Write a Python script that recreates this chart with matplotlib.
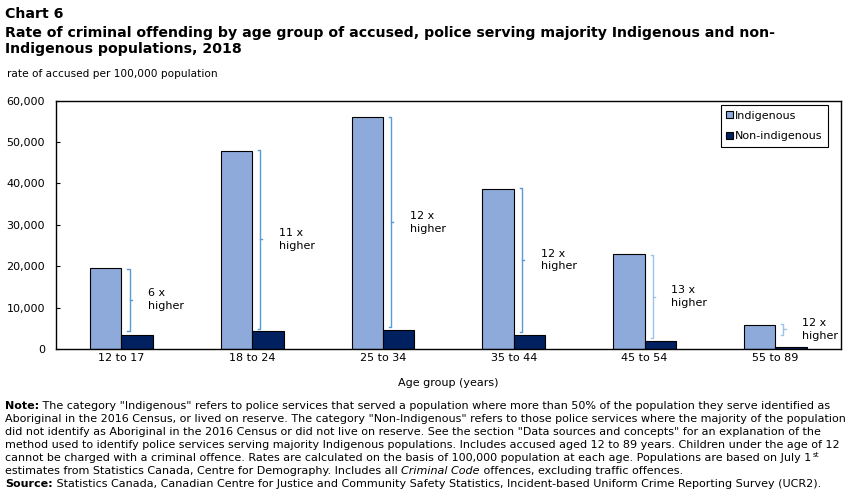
import matplotlib
matplotlib.use('Agg')
import matplotlib.pyplot as plt
from matplotlib.ticker import FuncFormatter
import numpy as np

age_groups = ['12 to 17', '18 to 24', '25 to 34', '35 to 44', '45 to 54', '55 to 89']
indigenous = [19500, 47800, 56000, 38600, 22900, 5700]
non_indigenous = [3300, 4300, 4600, 3300, 1900, 500]
ratio_labels = ['6 x\nhigher', '11 x\nhigher', '12 x\nhigher', '12 x\nhigher', '13 x\nhigher', '12 x\nhigher']
bracket_top = [19400, 48100, 56000, 39000, 22600, 6000]
bracket_bottom = [4400, 4900, 5200, 4000, 2600, 3500]
bracket_colors = ['#5b9bd5', '#5b9bd5', '#5b9bd5', '#5b9bd5', '#9dc3e6', '#9dc3e6']

W, H = 851, 492
chart_font = ['DejaVu Sans']
note_font = ['Liberation Sans Narrow', 'DejaVu Sans Condensed', 'DejaVu Sans']
fs = 8

fig = plt.figure(figsize=(W / 100, H / 100), dpi=100)
renderer = fig.canvas.get_renderer()


def fx(px):
    return px / W


def fy(py):
    return 1 - py / H


def fit_size(s, target_px, **kw):
    # font size that makes the string s about target_px wide
    probe = fig.text(0, 0, s, fontsize=10, **kw)
    width = probe.get_window_extent(renderer).width
    probe.remove()
    return 10 * target_px / width


ax = fig.add_axes([fx(56), fy(349), (840.7 - 56) / W, (349 - 100.7) / H])

x = np.arange(len(age_groups))
w = 0.24
ax.bar(x - w / 2, indigenous, w, color='#8eaadb', edgecolor='black', linewidth=0.8, label='Indigenous')
ax.bar(x + w / 2, non_indigenous, w, color='#002060', edgecolor='black', linewidth=0.8, label='Non-indigenous')

# curly brackets with the "x higher" labels
for i in range(len(age_groups)):
    bx = i + 0.062
    hook = 0.016
    top, bot = bracket_top[i], bracket_bottom[i]
    mid = (top + bot) / 2
    c = bracket_colors[i]
    ax.plot([bx - hook, bx, bx, bx - hook], [top, top, bot, bot], color=c, lw=1)
    ax.plot([bx, bx + 0.016], [mid, mid], color=c, lw=1)
    ax.text(i + 0.205, mid, ratio_labels[i], ha='left', va='center', fontsize=fs,
            family=chart_font, linespacing=1.35)

ax.set_xlim(-0.5, len(age_groups) - 0.5)
ax.set_ylim(0, 60000)
ax.set_yticks(np.arange(0, 60001, 10000))
ax.yaxis.set_major_formatter(FuncFormatter(lambda v, p: '{:,.0f}'.format(v)))
ax.set_xticks(x)
ax.set_xticklabels(age_groups)
ax.tick_params(axis='y', direction='in', length=3, width=0.8, labelsize=fs, pad=8)
ax.tick_params(axis='x', length=0, labelsize=fs, pad=3)
for lab in ax.get_xticklabels() + ax.get_yticklabels():
    lab.set_family(chart_font)
for s in ax.spines.values():
    s.set_linewidth(1)

leg = ax.legend(loc='upper right', bbox_to_anchor=(fx(828.3), fy(105)), bbox_transform=fig.transFigure,
                fancybox=False, edgecolor='black', framealpha=1, prop={'family': chart_font, 'size': fs},
                handlelength=0.6, handleheight=0.6, handletextpad=0.2, borderpad=0.5,
                labelspacing=0.95, borderaxespad=0)
leg.get_frame().set_linewidth(0.8)

fig.text(fx(448), fy(383), 'Age group (years)', ha='center', va='center', fontsize=fs, family=chart_font)

# titles
title_lines = ['Chart 6',
               'Rate of criminal offending by age group of accused, police serving majority Indigenous and non-',
               'Indigenous populations, 2018']
title_size = 0.97 * fit_size(title_lines[1], 795, family=chart_font, weight='bold')
for k, t in enumerate(title_lines):
    fig.text(fx(5), fy([14, 33, 49][k]), t, ha='left', va='center', fontsize=title_size,
             family=chart_font, weight='bold')
fig.text(fx(7), fy(74), 'rate of accused per 100,000 population', ha='left', va='center', fontsize=7.6,
         family=chart_font)

# notes
normal = {}
bold = {'weight': 'bold'}
ital = {'style': 'italic'}
sup = {'sup': True}
note_lines = [
    [('Note:', bold), (' The category "Indigenous" refers to police services that served a population where more than 50% of the population they serve identified as', normal)],
    [('Aboriginal in the 2016 Census, or lived on reserve. The category "Non-Indigenous" refers to those police services where the majority of the population', normal)],
    [('did not identify as Aboriginal in the 2016 Census or did not live on reserve. See the section "Data sources and concepts" for an explanation of the', normal)],
    [('method used to identify police services serving majority Indigenous populations. Includes accused aged 12 to 89 years. Children under the age of 12', normal)],
    [('cannot be charged with a criminal offence. Rates are calculated on the basis of 100,000 population at each age. Populations are based on July 1', normal), ('st', sup)],
    [('estimates from Statistics Canada, Centre for Demography. Includes all ', normal), ('Criminal Code', ital), (' offences, excluding traffic offences.', normal)],
    [('Source:', bold), (' Statistics Canada, Canadian Centre for Justice and Community Safety Statistics, Incident-based Uniform Crime Reporting Survey (UCR2).', normal)],
]

note_size = fit_size(note_lines[1][0][0], 843 - 5, family=note_font)


def draw_runs(xpx, ypx, runs, size):
    for s, style in runs:
        if style.get('sup'):
            t = fig.text(fx(xpx + 1), fy(ypx - 3), s, ha='left', va='center', fontsize=size * 0.65,
                         family=note_font)
        else:
            t = fig.text(fx(xpx), fy(ypx), s, ha='left', va='center', fontsize=size, family=note_font,
                         weight=style.get('weight', 'normal'), style=style.get('style', 'normal'))
        xpx += t.get_window_extent(renderer).width


for k, runs in enumerate(note_lines):
    draw_runs(5, 406 + 13 * k, runs, note_size)

fig.savefig('out.png', dpi=100)
